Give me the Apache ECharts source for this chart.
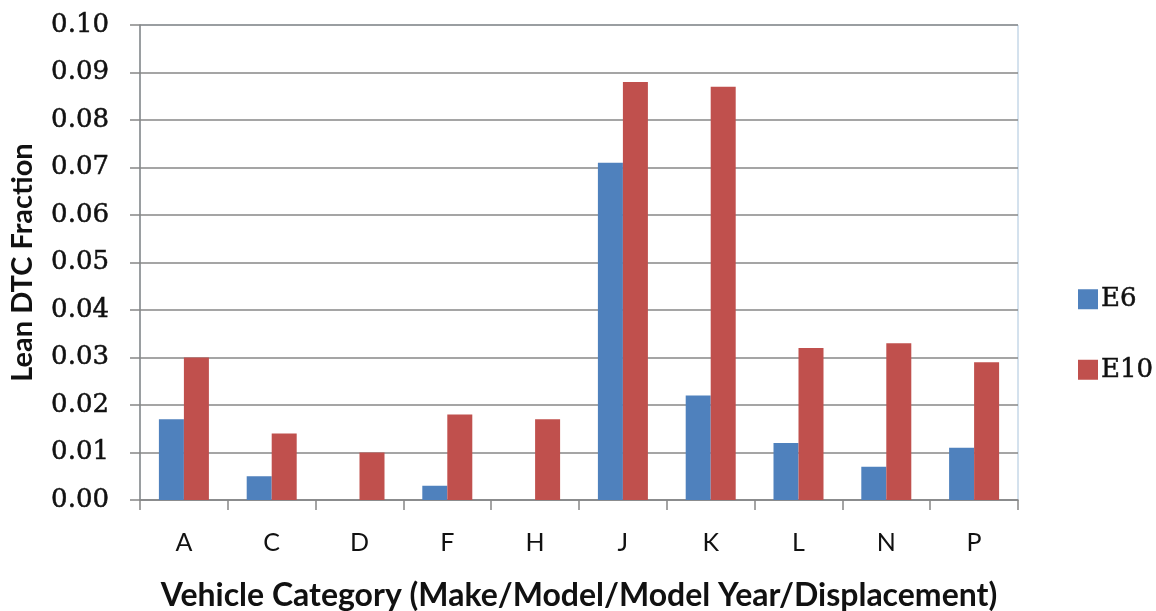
<!DOCTYPE html>
<html>
<head>
<meta charset="utf-8">
<script src="https://cdn.jsdelivr.net/npm/echarts@6/dist/echarts.min.js"></script>
<style>
  html, body { margin: 0; padding: 0; background: #fff; }
  #chart { width: 1156px; height: 611px; }
</style>
</head>
<body>
<div id="chart"></div>
<script>
// Vehicle categories and lean DTC fractions per fuel blend
const categories = ['A', 'C', 'D', 'F', 'H', 'J', 'K', 'L', 'N', 'P'];
const e6Values  = [0.017, 0.005, 0, 0.003, 0, 0.071, 0.022, 0.012, 0.007, 0.011];
const e10Values = [0.030, 0.014, 0.010, 0.018, 0.017, 0.088, 0.087, 0.032, 0.033, 0.029];
const seriesNames = ['E6', 'E10'];
const yTicks = { min: 0, max: 0.1, interval: 0.01 };

const chart = echarts.init(document.getElementById('chart'));
const gridColor = '#878787';
const serif = '"DejaVu Serif", serif';
const sans = 'Lato, "Open Sans", sans-serif';
const serifText = { fontFamily: serif, fontSize: 26, color: '#111', textBorderColor: '#111', textBorderWidth: 0.5 };

chart.setOption({
  backgroundColor: '#ffffff',
  animation: false,
  grid: {
    left: 140, right: 138, top: 25, bottom: 111,
    containLabel: false, outerBoundsMode: 'none',
    show: true, borderColor: '#a9c4dc', borderWidth: 1
  },
  legend: {
    orient: 'vertical',
    left: 1073, top: 281,
    itemWidth: 20, itemHeight: 20, itemGap: 44,
    icon: 'rect',
    textStyle: Object.assign({ padding: [0, 0, 0, -2] }, serifText),
    data: seriesNames
  },
  xAxis: {
    type: 'category',
    data: categories,
    name: 'Vehicle Category (Make/Model/Model Year/Displacement)',
    nameLocation: 'middle',
    nameGap: 80,
    nameTextStyle: { fontFamily: sans, fontWeight: 'bold', fontSize: 32, color: '#111' },
    axisLine: { lineStyle: { color: gridColor, width: 1.5 } },
    axisTick: { show: true, length: 10, lineStyle: { color: gridColor, width: 1.5 } },
    axisLabel: { margin: 30, fontFamily: sans, fontSize: 25, color: '#111' }
  },
  yAxis: {
    type: 'value',
    min: yTicks.min, max: yTicks.max, interval: yTicks.interval,
    name: 'Lean DTC Fraction',
    nameLocation: 'middle',
    nameGap: 103,
    nameTextStyle: { fontFamily: sans, fontWeight: 'bold', fontSize: 29, color: '#111' },
    axisLine: { show: true, lineStyle: { color: gridColor, width: 1.5 } },
    axisTick: { show: true, length: 10, lineStyle: { color: gridColor, width: 1.5 } },
    axisLabel: Object.assign({ margin: 31, formatter: v => v.toFixed(2) }, serifText),
    splitLine: { lineStyle: { color: gridColor, width: 1.5 } }
  },
  series: [
    {
      name: seriesNames[0], type: 'bar', data: e6Values,
      barWidth: 25, barGap: '0%',
      itemStyle: { color: '#4f81bd' }
    },
    {
      name: seriesNames[1], type: 'bar', data: e10Values,
      barWidth: 25, barGap: '0%',
      itemStyle: { color: '#c0504d' }
    }
  ]
});
</script>
</body>
</html>
